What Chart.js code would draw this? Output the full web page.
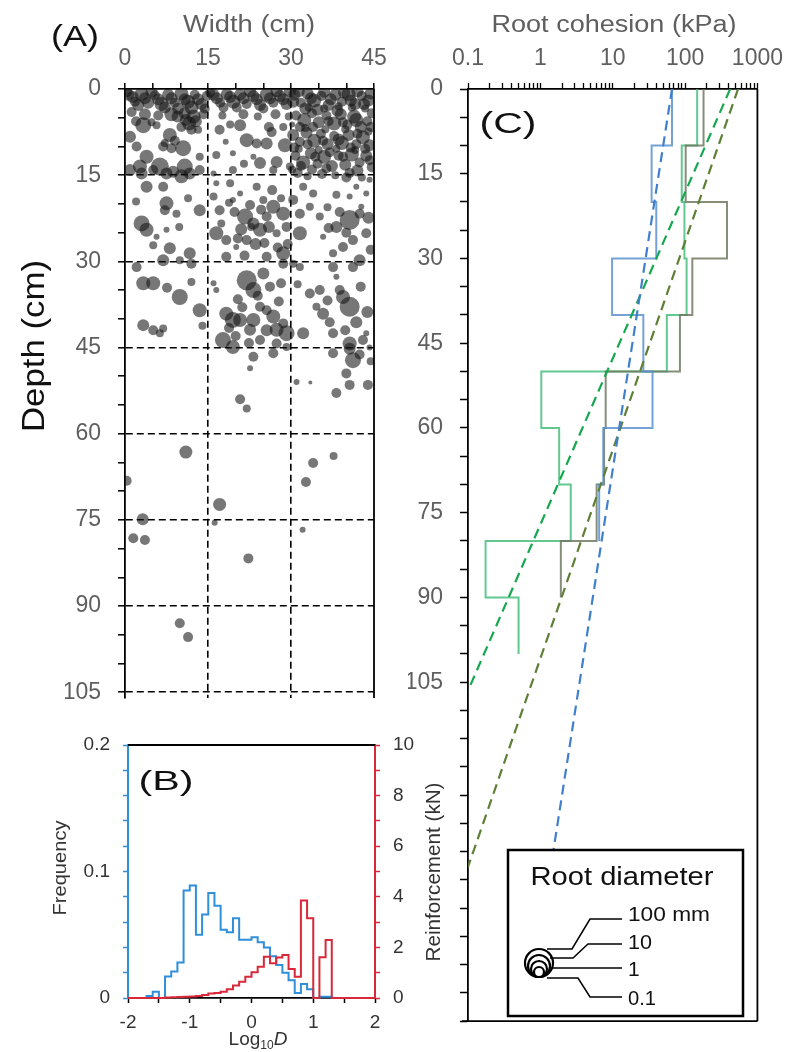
<!DOCTYPE html>
<html><head><meta charset="utf-8">
<script src="https://cdn.jsdelivr.net/npm/chart.js@4.4.1/dist/chart.umd.min.js"></script>
<style>
html,body{margin:0;padding:0;background:#fff;}
#wrap{position:relative;width:794px;height:1052px;overflow:hidden;background:#fff;}
canvas{position:absolute;left:0;top:0;}
svg{position:absolute;left:0;top:0;pointer-events:none;}
</style></head><body>
<div id="wrap">
<canvas id="cA" width="794" height="1052"></canvas>
<canvas id="cC" width="794" height="1052"></canvas>
<canvas id="cB" width="794" height="1052"></canvas>
<svg width="794" height="1052" font-family="Liberation Sans, Arial, sans-serif">
  <text x="75" y="35" font-size="30" fill="#111" text-anchor="middle" dominant-baseline="central" textLength="48" lengthAdjust="spacingAndGlyphs">(A)</text>
  <text x="249" y="24" font-size="23" fill="#5f5f5f" text-anchor="middle" dominant-baseline="central" textLength="132" lengthAdjust="spacingAndGlyphs">Width (cm)</text>
  <text x="614" y="24" font-size="23" fill="#5f5f5f" text-anchor="middle" dominant-baseline="central" textLength="245" lengthAdjust="spacingAndGlyphs">Root cohesion (kPa)</text>
  <text transform="translate(33,346) rotate(-90)" font-size="32" fill="#111" text-anchor="middle" dominant-baseline="central" textLength="172" lengthAdjust="spacingAndGlyphs">Depth (cm)</text>
  <text x="508" y="122" font-size="30" fill="#111" text-anchor="middle" dominant-baseline="central" textLength="57" lengthAdjust="spacingAndGlyphs">(C)</text>
  <text x="166" y="780" font-size="28" fill="#111" text-anchor="middle" dominant-baseline="central" textLength="55" lengthAdjust="spacingAndGlyphs">(B)</text>
  <text transform="translate(59,868) rotate(-90)" font-size="19" fill="#333" text-anchor="middle" dominant-baseline="central" textLength="95" lengthAdjust="spacingAndGlyphs">Frequency</text>
  <text transform="translate(433,872) rotate(-90)" font-size="20" fill="#333" text-anchor="middle" dominant-baseline="central" textLength="179" lengthAdjust="spacingAndGlyphs">Reinforcement (kN)</text>
  <text x="258" y="1045" font-size="19" fill="#333" text-anchor="middle">Log<tspan font-size="12" dy="4">10</tspan><tspan dy="-4" font-style="italic">D</tspan></text>
  <rect x="508" y="850" width="235" height="166" fill="#fff" stroke="#000" stroke-width="2.5"/>
  <text x="622" y="876" font-size="25" fill="#111" text-anchor="middle" dominant-baseline="central" textLength="183" lengthAdjust="spacingAndGlyphs">Root diameter</text>
  <g fill="#fff" stroke="#000" stroke-width="2.2">
    <circle cx="539" cy="963" r="14"/><circle cx="539" cy="966" r="11"/><circle cx="539" cy="969" r="8"/><circle cx="539" cy="972" r="5"/>
  </g>
  <g fill="none" stroke="#000" stroke-width="1.5">
    <polyline points="547,949 572,949 590,919 622,919"/>
    <polyline points="550,958 573,958 588,944 622,944"/>
    <polyline points="553,968 622,968"/>
    <polyline points="547,978 578,978 590,997 622,997"/>
  </g>
  <g font-size="21" fill="#111">
    <text x="628" y="921" textLength="82" lengthAdjust="spacingAndGlyphs">100 mm</text>
    <text x="628" y="949" textLength="24" lengthAdjust="spacingAndGlyphs">10</text>
    <text x="628" y="976">1</text>
    <text x="628" y="1005" textLength="28" lengthAdjust="spacingAndGlyphs">0.1</text>
  </g>
</svg>
</div>
<script>
// ---------- Panel A: root positions [width cm, depth cm, bubble size] ----------
const rootsTopRow = [
[0.6,1.0,6],[1.8,2.2,5],[3.0,0.9,7],[4.2,2.4,6],[5.4,1.1,5],[6.6,2.6,7],[7.8,1.0,6],[9.0,2.4,5],[10.2,0.8,7],[11.4,2.2,7],[12.6,1.0,5],[13.8,2.6,6],[14.8,1.2,5],
[1.2,4.0,5],[3.6,4.4,6],[6.0,4.6,5],[8.4,4.4,7],[10.8,4.2,6],[12.4,4.8,7],[14.2,4.4,5],
[16.0,1.0,6],[17.2,2.4,5],[18.4,0.9,6],[19.6,2.2,7],[20.8,1.0,6],[22.0,2.6,5],[23.2,1.2,6],[24.4,2.8,6],[25.6,1.0,7],[26.8,2.4,5],[28.0,1.2,6],[29.2,2.6,6],
[17.6,4.6,4],[21.4,4.4,5],[24.0,4.8,4],[27.2,4.4,5],[29.6,4.8,4],[19.0,6.2,4],[26.0,6.6,5]
];
const rootsTopRow2 = [
[0.2,0.4,6],[1.4,1.4,6],[2.4,2.8,6],[3.6,1.6,6],[4.8,0.5,6],[6.0,1.8,6],[7.2,3.2,6],[8.4,1.6,6],[9.6,3.4,6],[10.8,1.8,6],[12.0,3.2,7],[13.2,1.8,6],[14.4,3.4,5],
[15.4,0.6,5],[16.6,1.6,6],[17.8,3.2,5],[19.0,1.4,6],[20.2,3.2,5],[21.4,1.6,6],[22.6,0.4,6],[23.8,1.8,6],[25.0,3.4,5],[26.2,1.6,6],[27.4,0.4,6],[28.6,1.8,6],[29.8,0.4,6],
[2.0,5.6,5],[4.8,5.8,4],[11.6,6.0,7],[12.8,5.6,6],[10.2,6.6,5]
];
const rootsShallow = [
[3.3,6.3,8],[0.9,8.3,6],[5.7,6.3,4],[2.1,10.0,5],[3.9,11.8,7],[6.9,10.0,5],[8.1,8.0,7],[8.4,10.3,5],[6.3,13.5,9],[10.5,10.3,8],[12.0,7.1,5],[10.8,13.5,8],[13.5,11.8,4],[13.2,7.1,4],[2.7,13.5,7],[0.9,14.1,6],
[3.0,14.7,6],[5.1,14.1,5],[7.5,14.7,6],[8.7,14.4,6],[10.2,15.2,7],[11.7,14.7,6],[13.5,14.1,5],
[9.0,9.0,5],[7.2,9.4,4],[11.0,5.4,6],[9.5,4.8,6],
[16.5,11.5,4],[17.1,7.1,5],[19.5,11.2,3],[20.8,6.3,6],[22.0,8.9,7],[23.8,9.5,5],[25.6,9.5,6],[28.9,9.8,7],[28.6,6.6,4],[24.4,12.9,6],[27.4,12.7,6],[26.8,14.1,4],[29.8,13.5,4],[23.2,11.8,3],[19.5,14.1,4],[16.0,14.7,3],
[21.5,13.0,4],[18.2,9.2,3],[26.5,7.5,5]
];
const rootsRight = [
[30.6,1.0,6],[31.8,2.4,5],[33.0,0.8,6],[34.2,2.0,7],[35.5,1.2,5],[36.8,2.8,6],[38.0,1.0,6],[39.2,2.2,5],[40.4,0.9,7],[41.6,2.6,6],[42.8,1.2,5],[44.0,2.0,6],[44.6,4.2,5],
[30.9,4.6,5],[32.4,5.4,7],[33.8,4.2,5],[35.0,5.8,6],[36.4,4.6,5],[37.8,6.0,7],[39.0,4.4,6],[40.2,6.2,5],[41.4,4.8,7],[42.6,6.6,6],[43.8,5.6,5],
[30.4,8.0,6],[31.6,9.2,5],[32.8,7.6,6],[34.2,9.0,7],[35.4,7.8,5],[36.6,9.6,6],[37.8,8.2,5],[39.2,9.4,7],[40.4,8.0,6],[41.8,9.6,5],[43.0,8.4,7],[44.2,9.8,6],
[30.8,11.6,5],[32.2,12.8,7],[33.6,11.2,6],[34.8,13.0,5],[36.0,11.8,7],[37.4,13.4,6],[38.6,11.6,5],[39.8,13.2,6],[41.0,11.4,7],[42.4,12.8,5],[43.6,11.6,6],[44.6,13.6,5],
[31.2,14.6,5],[33.0,15.2,4],[35.6,14.8,5],[38.0,15.0,4],[40.6,14.6,5],[42.8,15.4,4],
[30.2,6.2,3],[33.2,3.2,4],[36.0,3.4,4],[38.6,3.0,4],[41.0,3.2,4],[43.4,3.4,4],[31.4,10.4,4],[35.0,10.6,4],[38.2,10.4,4],[41.6,10.6,4],[44.0,7.4,4],[39.8,7.0,4],[36.2,7.0,4],[32.6,6.8,4],[41.8,5.4,7]
];
const rootsRight2 = [
[30.4,2.2,6],[31.4,0.4,6],[32.6,3.4,6],[33.6,1.6,6],[34.8,3.6,6],[36.0,0.5,6],[37.2,1.8,6],[38.4,3.8,6],[39.6,0.6,6],[40.8,2.0,6],[42.0,0.4,6],[43.2,2.6,6],[44.4,0.8,6],
[31.6,6.6,5],[34.0,6.6,5],[36.8,5.6,5],[39.4,5.8,5],[42.0,7.8,5],[44.4,6.6,5],[30.6,10.2,5],[33.0,9.6,5],[35.8,9.0,5],[38.6,8.8,6],[40.8,10.2,5],[43.4,10.4,5],
[31.8,13.4,5],[34.4,11.8,5],[37.0,11.0,5],[39.4,11.8,5],[42.0,14.2,6],[44.2,12.4,5],[36.4,13.8,5],[33.8,14.0,5],[30.2,14.0,4],[40.0,15.4,5]
];
const rootsMid = [
[3.9,17.0,6],[6.9,17.0,5],[7.5,19.9,7],[7.2,21.1,5],[9.3,21.7,4],[13.5,21.1,6],[3.0,23.4,8],[3.9,24.5,7],[5.1,27.2,4],[7.5,24.5,3],[5.7,25.7,3],[8.1,27.7,6],[11.7,28.6,6],[6.9,29.8,6],[9.9,29.8,4],[12.0,30.4,5],
[16.5,16.4,3],[19.0,16.4,4],[17.1,21.1,5],[19.5,19.3,3],[20.8,18.2,3],[21.7,22.2,8],[16.5,25.1,7],[18.3,26.3,5],[22.0,26.3,5],[24.4,24.5,7],[25.6,22.2,5],[26.8,20.5,7],[28.6,21.7,7],[23.2,23.4,6],[27.4,25.1,4],[28.6,28.6,7],[25.6,29.2,5],[18.3,29.2,5],[20.1,27.5,3],[16.0,18.7,4],[25.0,19.3,4],[29.2,24.0,5],
[30.4,19.3,5],[31.6,21.7,5],[33.4,20.5,4],[35.2,22.2,4],[31.6,25.1,7],[35.8,25.7,3],[38.2,24.0,6],[40.6,22.8,10],[42.4,21.7,5],[43.6,25.1,5],[41.2,26.3,5],[39.4,27.5,5],[42.4,29.8,6],[37.6,28.6,4],[43.6,18.2,3],[40.6,18.7,3],[42.7,20.5,3],[34.0,18.2,4],[32.2,17.0,4],[41.8,17.0,3],[44.2,15.8,3]
];
const rootsMid2 = [
[19.8,21.4,5],[21.0,24.4,6],[22.6,20.2,5],[23.6,27.0,6],[24.6,21.0,5],[26.0,24.0,6],[27.6,27.6,5],[20.4,26.0,5],[25.2,26.8,5],[22.8,24.0,4],[17.4,23.4,4],[26.6,17.6,5],[28.2,19.0,4],[23.8,17.0,4],[18.8,19.8,4],[29.4,27.0,5],[21.6,29.0,5],
[36.6,20.6,4],[38.8,21.4,5],[44.0,22.4,6],[40.0,25.0,5],[36.8,24.2,5],[44.4,28.0,5],[38.2,18.4,4],[2.0,19.6,4],[9.8,24.0,4],[11.4,19.0,4]
];
const rootsDeep = [
[2.1,31.0,5],[3.3,33.8,7],[5.1,33.8,7],[9.9,36.2,8],[13.5,38.5,7],[3.3,41.1,6],[5.1,42.0,5],[6.9,41.7,4],[6.3,42.5,4],
[18.3,39.1,7],[19.5,40.2,8],[20.8,40.2,7],[22.0,33.3,10],[23.2,35.0,8],[25.0,32.1,6],[26.2,34.4,5],[24.4,37.9,5],[25.6,38.5,5],[26.8,39.6,7],[23.2,40.2,7],[22.6,41.9,6],[27.4,41.9,7],[28.6,40.8,5],[29.2,42.5,8],[17.7,43.7,8],[19.5,44.9,7],[24.4,43.7,5],[27.4,44.3,5],[29.2,44.9,4],
[31.6,31.0,4],[33.4,35.6,5],[35.2,35.0,5],[34.6,37.9,4],[35.8,39.1,6],[38.8,35.0,5],[39.4,36.2,7],[40.6,37.9,10],[41.2,31.0,5],[37.6,31.0,5],[38.2,32.7,3],[32.2,42.5,6],[37.6,42.5,5],[40.6,44.3,7],[43.0,43.7,5],[43.6,42.5,3],[30.4,30.4,4],[28.6,30.4,5],[16.5,35.0,3],[16.0,33.8,3]
];
const rootsDeep2 = [
[20.4,36.6,5],[21.2,38.0,5],[24.0,36.0,5],[27.8,37.0,5],[28.2,33.8,5],[20.0,43.0,5],[25.6,42.0,6],[22.4,44.2,5],[18.8,41.6,5],[36.6,36.8,5],[42.6,34.4,5],[43.8,38.8,6],[41.8,40.6,6],[37.0,40.6,5],[39.8,42.0,5],[42.4,46.2,5],[44.4,47.4,4],[31.2,34.0,4],[7.6,34.6,5],[12.0,33.6,4],[14.0,41.2,4]
];
const rootsBelow = [
[41.2,47.2,8],[40.6,45.2,6],[37.6,46.0,5],[44.2,45.0,3],[40.0,49.5,5],[40.6,51.5,5],[43.9,51.5,5],[38.2,52.9,5],[31.0,51.0,3],[33.5,51.1,2],[23.2,46.6,5],[22.6,48.6,3],[26.8,46.0,5],[20.8,54.0,5],[22.0,55.6,4],[11.0,63.2,6.5],[0.3,68.2,5],[34.0,65.1,5],[37.7,63.9,4],[32.7,68.4,5],[17.1,72.3,6.5],[16.2,75.5,3],[3.2,74.9,6],[1.5,78.2,5],[3.6,78.5,5],[32.1,76.7,3],[22.3,81.7,5],[9.9,93.0,5],[11.4,95.4,5]
];

// ---------- Panel B: histograms over Log10 D ----------
const logDiameterBins = [-2.0,-1.9,-1.8,-1.7,-1.6,-1.5,-1.4,-1.3,-1.2,-1.1,-1.0,-0.9,-0.8,-0.7,-0.6,-0.5,-0.4,-0.3,-0.2,-0.1,0.0,0.1,0.2,0.3,0.4,0.5,0.6,0.7,0.8,0.9,1.0,1.1,1.2,1.3,1.4,1.5,1.6,1.7,1.8,1.9];
const logDiameterEnd = 2.0;
const frequencyValues = [0,0,0,0.0016,0.005,0, 0.017,0.021,0.028,0.085, 0.089,0.050,0.066,0.083,0.073, 0.054,0.052,0.063,0.046,0.046, 0.048,0.044,0.040,0.033,0.026, 0.020,0.014,0.004,0.011,0.007, 0,0.001,0.001,0,0, 0,0,0,0,0];
const reinforcementValues = [0,0,0,0,0,0, 0.02,0.03,0.04,0.05, 0.06,0.08,0.12,0.18,0.20, 0.25,0.35,0.49,0.64,0.84, 1.02,1.24,1.63,1.37,1.60, 1.70,1.15,0.84,3.85,3.15, 0,1.61,2.29,0,0, 0,0,0,0,0];

// ---------- Panel C: root cohesion profiles ----------
const cohesionDepthEdges = [0,10,20,30,40,50,60,70,80,90,100];
const blueCohesion = [66,34.5,40,9.8,26.5,35.5,7.4,6.5];
const greenCohesion = [147,90,98,105,56,1.03,1.82,2.63,0.175,0.5];
const oliveCohesion = [180,102,380,126,85,8.0,7.6,6.0,1.92];
const blueFitDepth = [0,165];   const blueFitValue = [66,0.65];
const greenFitDepth = [0,106.5]; const greenFitValue = [420,0.1];
const oliveFitDepth = [0,137.7]; const oliveFitValue = [540,0.1];
const cohesionDecades = [-1,0,1,2];
const cohesionMax = 1000;

// ---------- helpers ----------
Chart.defaults.font.family = '"Liberation Sans", Arial, sans-serif';
Chart.defaults.animation = false;
const framePlugin = {
  id: 'frame',
  afterDraw(chart, args, opts) {
    const {ctx, chartArea: a} = chart;
    ctx.save();
    ctx.lineWidth = opts.width || 1.8;
    ctx.strokeStyle = opts.color || '#000';
    (opts.sides || []).forEach(s => {
      ctx.beginPath();
      if (s === 'right') { ctx.moveTo(a.right, a.top); ctx.lineTo(a.right, a.bottom); }
      if (s === 'bottom') { ctx.moveTo(a.left - 6, a.bottom); ctx.lineTo(a.right, a.bottom); }
      if (s === 'top') { ctx.moveTo(a.left, a.top); ctx.lineTo(a.right, a.top); }
      ctx.stroke();
    });
    ctx.restore();
  }
};
const clear = 'rgba(0,0,0,0)';
const allRoots = [].concat(rootsTopRow, rootsTopRow2, rootsShallow, rootsRight, rootsRight2, rootsMid, rootsMid2, rootsDeep, rootsDeep2, rootsBelow);

// ---------- Chart A ----------
new Chart(document.getElementById('cA'), {
  type: 'bubble',
  data: { datasets: [{
    data: allRoots.map(([x, y, r]) => ({x, y, r})),
    backgroundColor: 'rgba(20,20,20,0.58)', borderWidth: 0, clip: 0
  }]},
  options: {
    responsive: false, devicePixelRatio: 1, events: [],
    layout: { padding: {left: 65, top: 29, right: 420, bottom: 354} },
    plugins: { legend: {display: false}, tooltip: {enabled: false}, frame: {sides: ['right']} },
    scales: {
      x: { type: 'linear', position: 'top', min: 0, max: 45, z: 1,
        afterFit: s => { s.height = 60; },
        ticks: { stepSize: 5, autoSkip: false, maxRotation: 0, padding: 11, color: '#5f5f5f', font: {size: 23},
          callback: v => (v % 15 === 0 ? String(v) : '') },
        grid: { tickLength: 6, lineWidth: 1.6, tickColor: '#000', tickWidth: 1.5,
          color: c => (c.tick && c.tick.value % 15 === 0 && c.tick.value > 0 && c.tick.value < 45) ? '#000' : clear },
        border: { display: true, color: '#000', width: 1.8, dash: [7, 4] } },
      y: { type: 'linear', position: 'left', reverse: true, min: 0, max: 106, z: 1,
        afterFit: s => { s.width = 60; },
        ticks: { stepSize: 5, includeBounds: false, autoSkip: false, padding: 17, color: '#5f5f5f', font: {size: 23},
          callback: v => (v % 15 === 0 ? String(v) : '') },
        grid: { tickLength: 7, lineWidth: 1.6, tickColor: '#000', tickWidth: 1.5,
          color: c => (c.tick && c.tick.value % 15 === 0 && c.tick.value > 0) ? '#000' : clear },
        border: { display: true, color: '#000', width: 1.8, dash: [7, 4] } }
    }
  },
  plugins: [framePlugin]
});

// ---------- Chart C ----------
function stepPoints(edges, values) {
  const pts = [];
  values.forEach((v, i) => { pts.push({x: v, y: edges[i]}); pts.push({x: v, y: edges[i + 1]}); });
  return pts;
}
function linePoints(depths, values) { return depths.map((d, i) => ({x: values[i], y: d})); }
const logTickValues = [];
cohesionDecades.forEach(e => { for (let m = 1; m <= 9; m++) logTickValues.push(+(m * Math.pow(10, e)).toPrecision(6)); });
logTickValues.push(cohesionMax);

const dashed = (pts, color) => ({ data: pts, borderColor: color, borderWidth: 2.2, borderDash: [10, 6], pointRadius: 0, fill: false, tension: 0 });
const stepDs = (pts, color) => ({ data: pts, borderColor: color, borderWidth: 2, pointRadius: 0, fill: false, tension: 0 });
new Chart(document.getElementById('cC'), {
  type: 'line',
  data: { datasets: [
    dashed(linePoints(blueFitDepth, blueFitValue), '#3f7fcc'),
    dashed(linePoints(greenFitDepth, greenFitValue), '#16a84e'),
    dashed(linePoints(oliveFitDepth, oliveFitValue), '#5f7f36'),
    stepDs(stepPoints(cohesionDepthEdges, blueCohesion), 'rgba(92,146,208,0.85)'),
    stepDs(stepPoints(cohesionDepthEdges, oliveCohesion), 'rgba(112,122,98,0.85)'),
    stepDs(stepPoints(cohesionDepthEdges, greenCohesion), 'rgba(70,190,125,0.85)')
  ]},
  options: {
    responsive: false, devicePixelRatio: 1, events: [],
    layout: { padding: {left: 408, top: 29, right: 31, bottom: 15} },
    plugins: { legend: {display: false}, tooltip: {enabled: false}, frame: {sides: ['right', 'bottom']} },
    scales: {
      x: { type: 'logarithmic', position: 'top', min: 0.1, max: 1000,
        afterFit: s => { s.height = 60; },
        afterBuildTicks: s => { s.ticks = logTickValues.map(v => ({value: v})); },
        ticks: { autoSkip: false, maxRotation: 0, padding: 11, color: '#5f5f5f', font: {size: 23},
          callback: v => { const l = Math.log10(v); return Math.abs(l - Math.round(l)) < 1e-6 ? String(+v.toPrecision(1)) : ''; } },
        grid: { drawOnChartArea: false, tickLength: 6, tickColor: '#000', tickWidth: 1.3 },
        border: { color: '#000', width: 1.8 } },
      y: { type: 'linear', position: 'left', reverse: true, min: 0, max: 165,
        afterFit: s => { s.width = 60; },
        ticks: { stepSize: 5, autoSkip: false, padding: 17, color: '#5f5f5f', font: {size: 23},
          callback: v => (v % 15 === 0 && v <= 105 ? String(v) : '') },
        grid: { drawOnChartArea: false, tickLength: 8, tickColor: '#000', tickWidth: 1.5 },
        border: { color: '#000', width: 1.8 } }
    }
  },
  plugins: [framePlugin]
});

// ---------- Chart B ----------
function histPoints(values) {
  const pts = logDiameterBins.map((b, i) => ({x: b, y: values[i]}));
  pts.push({x: logDiameterEnd, y: 0});
  return pts;
}
new Chart(document.getElementById('cB'), {
  type: 'line',
  data: { datasets: [
    { data: histPoints(reinforcementValues), yAxisID: 'y1', stepped: true, borderColor: '#d8283a', borderWidth: 2, pointRadius: 0, fill: false, clip: 4 },
    { data: histPoints(frequencyValues), yAxisID: 'y', stepped: true, borderColor: '#2f8fd8', borderWidth: 2, pointRadius: 0, fill: false, clip: 4 }
  ]},
  options: {
    responsive: false, devicePixelRatio: 1, events: [],
    layout: { padding: {left: 78, top: 745, right: 369, bottom: 14} },
    plugins: { legend: {display: false}, tooltip: {enabled: false}, frame: {sides: ['top']} },
    scales: {
      x: { type: 'linear', position: 'bottom', min: -2, max: 2,
        afterFit: s => { s.height = 40; },
        ticks: { stepSize: 0.5, autoSkip: false, maxRotation: 0, padding: 8, color: '#333', font: {size: 19},
          callback: v => (Number.isInteger(v) ? String(v) : '') },
        grid: { drawOnChartArea: false, tickLength: 5, tickColor: '#000', tickWidth: 1.5 },
        border: { color: '#000', width: 1.8 } },
      y: { type: 'linear', position: 'left', min: 0, max: 0.2,
        afterFit: s => { s.width = 50; },
        ticks: { stepSize: 0.02, autoSkip: false, padding: 13, color: '#333', font: {size: 19},
          callback: v => { const t = Math.round(v * 100); return t % 10 === 0 ? (t === 0 ? '0' : (t / 100).toFixed(1)) : ''; } },
        grid: { drawOnChartArea: false, tickLength: 5, tickColor: '#2f8fd8', tickWidth: 1.5 },
        border: { color: '#2f8fd8', width: 2 } },
      y1: { type: 'linear', position: 'right', min: 0, max: 10,
        afterFit: s => { s.width = 50; },
        ticks: { stepSize: 1, autoSkip: false, padding: 13, color: '#333', font: {size: 19},
          callback: v => (v % 2 === 0 ? String(v) : '') },
        grid: { drawOnChartArea: false, tickLength: 5, tickColor: '#d8283a', tickWidth: 1.5 },
        border: { color: '#d8283a', width: 2 } }
    }
  },
  plugins: [framePlugin]
});
</script>
</body></html>
